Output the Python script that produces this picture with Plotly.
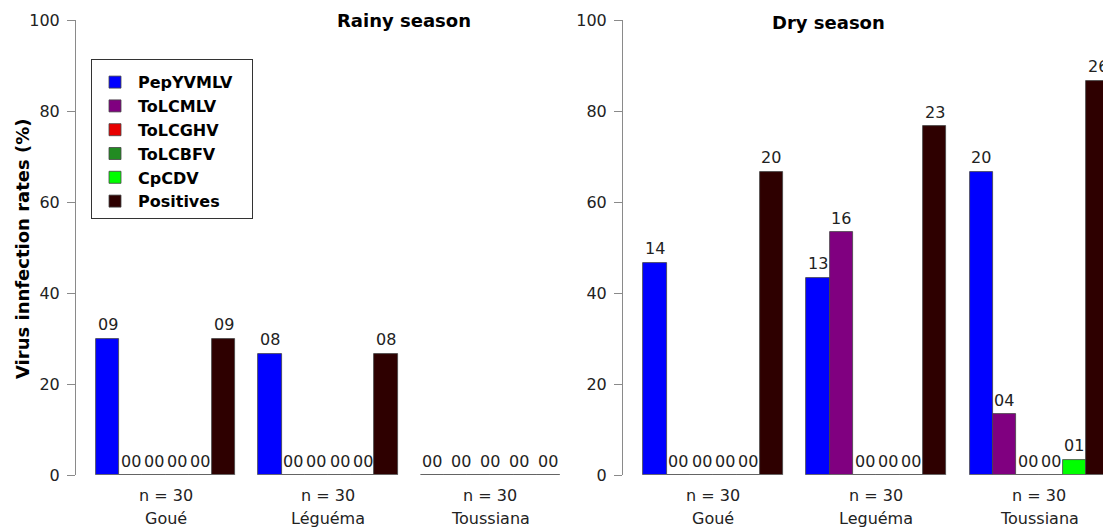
import numpy as np
import plotly.graph_objects as go

# ---------------- data ----------------
viruses = ["PepYVMLV", "ToLCMLV", "ToLCGHV", "ToLCBFV", "CpCDV", "Positives"]
colors = ["#0000FF", "#800080", "#E80000", "#228B22", "#00FF00", "#2E0000"]
sample_size = 30

rainy_sites = ["Goué", "Léguéma", "Toussiana"]
rainy_counts = {
    "Goué":      [9, 0, 0, 0, 0, 9],
    "Léguéma":   [8, 0, 0, 0, 0, 8],
    "Toussiana": [0, 0, 0, 0, 0, 0],
}

dry_sites = ["Goué", "Leguéma", "Toussiana"]
dry_counts = {
    "Goué":      [14, 0, 0, 0, 0, 20],
    "Leguéma":   [13, 16, 0, 0, 0, 23],
    "Toussiana": [20, 4, 0, 0, 1, 26],
}

panels = [
    ("Rainy season", rainy_sites, rainy_counts),
    ("Dry season", dry_sites, dry_counts),
]

# ---------------- layout geometry (pixels) ----------------
W, H = 1103, 527
FONT = "DejaVu Sans"
TXT = "#222222"
# (unit origin px, unit width px, axis px, right edge px)
geom = [(72.8, 23.2, 76, 578), (620.0, 23.3, 623, 1103)]
y_top_px, y_bot_px = 20, 475

fig = go.Figure()
annotations = []
shapes = []

for p, (title, sites, counts) in enumerate(panels):
    xa = "x" if p == 0 else "x2"
    ya = "y" if p == 0 else "y2"
    n_bars = len(viruses)
    starts = [1 + g * (n_bars + 1) for g in range(len(sites))]
    for v, name in enumerate(viruses):
        xs = [s + v + 0.5 for s in starts]
        ys = [counts[site][v] / sample_size * 100 for site in sites]
        fig.add_trace(go.Bar(
            x=xs, y=ys, width=1, name=name,
            marker=dict(color=colors[v], line=dict(color="#444444", width=0.8)),
            showlegend=(p == 0), legendgroup=name,
            xaxis=xa, yaxis=ya, hoverinfo="skip",
        ))
    for g, site in enumerate(sites):
        s = starts[g]
        vals = counts[site]
        # baseline under the group
        shapes.append(dict(type="line", xref=xa, yref=ya, x0=s, x1=s + n_bars,
                           y0=0, y1=0, line=dict(color="#777777", width=1)))
        # value labels
        if all(c == 0 for c in vals):
            xs = np.linspace(s + 0.5, s + n_bars - 0.5, n_bars - 1)
            labs = [(x, 0, f"{0:02d}") for x in xs]
        else:
            labs = [(s + v + 0.5, vals[v] / sample_size * 100, f"{vals[v]:02d}")
                    for v in range(n_bars)]
        for x, y, t in labs:
            annotations.append(dict(
                x=x, y=y, xref=xa, yref=ya, text=t, showarrow=False,
                yanchor="middle", yshift=14,
                font=dict(family=FONT, size=16, color=TXT)))
        # category labels
        cx = s + n_bars / 2
        annotations.append(dict(x=cx, y=(H - 495) / H, xref=xa, yref="paper",
                                text=f"n = {sample_size}", showarrow=False,
                                yanchor="middle",
                                font=dict(family=FONT, size=16, color=TXT)))
        annotations.append(dict(x=cx, y=(H - 518) / H, xref=xa, yref="paper",
                                text=site, showarrow=False, yanchor="middle",
                                font=dict(family=FONT, size=16, color=TXT)))

# panel titles
annotations.append(dict(x=335 / W, y=(H - 20) / H, xref="paper", yref="paper",
                        text="Rainy season", showarrow=False, yanchor="middle",
                        font=dict(family=FONT, size=18, color="#000000", weight="bold")))
annotations.append(dict(x=887 / W, y=(H - 22) / H, xref="paper", yref="paper",
                        text="Dry season", showarrow=False, yanchor="middle",
                        font=dict(family=FONT, size=18, color="#000000", weight="bold")))
# y-axis title
annotations.append(dict(x=22 / W, y=(H - 249) / H, xref="paper", yref="paper",
                        text="Virus innfection rates (%)", showarrow=False,
                        textangle=-90, xanchor="center", yanchor="middle",
                        font=dict(family=FONT, size=18, color="#000000", weight="bold")))


def xaxis_cfg(i):
    o, u, ax, right = geom[i]
    return dict(domain=[ax / W, right / W],
                range=[(ax - o) / u, (right - o) / u],
                visible=False, fixedrange=True, automargin=False)


def yaxis_cfg(anchor):
    return dict(domain=[(H - y_bot_px) / H, (H - y_top_px) / H],
                range=[0, 100], tickvals=[0, 20, 40, 60, 80, 100],
                showgrid=False, zeroline=False, showline=True,
                linecolor="#8a8a8a", linewidth=1, ticks="outside", ticklen=8,
                tickcolor="#8a8a8a", anchor=anchor, ticklabelstandoff=4,
                automargin=False,
                tickfont=dict(family=FONT, size=16, color=TXT), fixedrange=True)


fig.update_layout(
    template="none",
    width=W, height=H,
    margin=dict(l=0, r=0, t=0, b=0, pad=0, autoexpand=False),
    paper_bgcolor="white", plot_bgcolor="white",
    barmode="overlay", bargap=0,
    xaxis=xaxis_cfg(0), xaxis2=xaxis_cfg(1),
    yaxis=yaxis_cfg("x"), yaxis2=yaxis_cfg("x2"),
    annotations=annotations, shapes=shapes,
    legend=dict(x=91 / W, y=(H - 59) / H, xanchor="left", yanchor="top",
                bordercolor="#333333", borderwidth=1, bgcolor="white",
                title=dict(text="&nbsp;" * 112, font=dict(family=FONT, size=4)),
                font=dict(family=FONT, size=16, color="#000000", weight="bold"),
                itemwidth=36, tracegroupgap=0, traceorder="normal"),
    showlegend=True,
)

fig.write_html(
    "out.html",
    config={"displayModeBar": False},
    post_script=(
        "document.body.style.margin='0';"
        "document.body.style.overflow='hidden';"
        "document.documentElement.style.overflow='hidden';"
    ),
)
